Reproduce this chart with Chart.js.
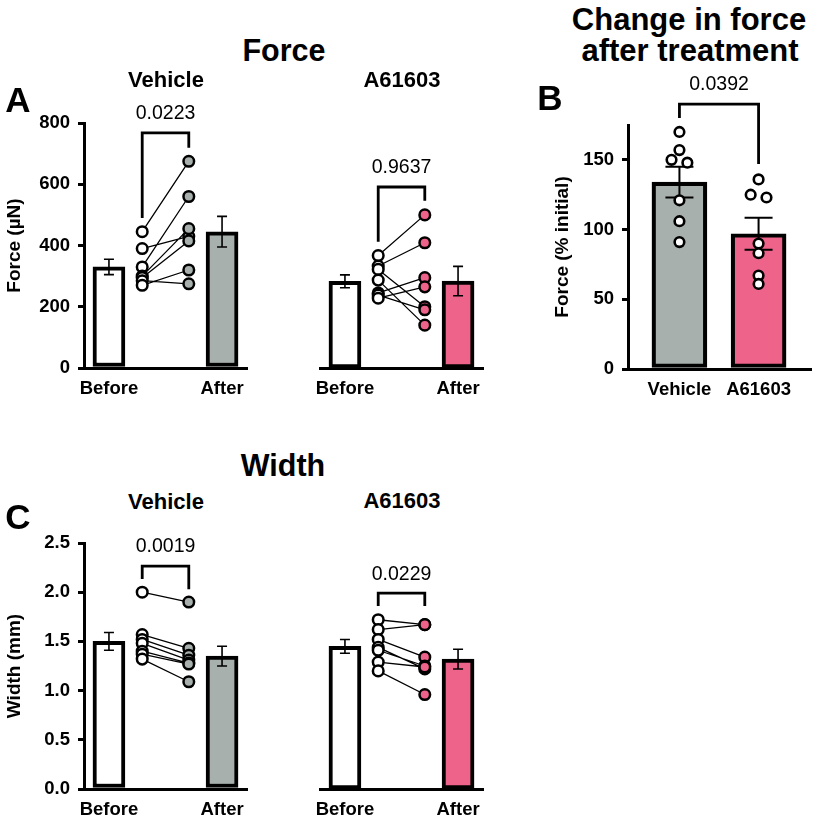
<!DOCTYPE html>
<html><head><meta charset="utf-8">
<script src="https://cdn.jsdelivr.net/npm/chart.js@4.4.1/dist/chart.umd.min.js"></script>
<style>
html,body{margin:0;padding:0;background:#fff;}
body{width:819px;height:823px;position:relative;overflow:hidden;font-family:"Liberation Sans",Arial,sans-serif;}
.t{position:absolute;font-weight:bold;color:#000;white-space:nowrap;transform:translate(-50%,-50%);line-height:1;}
canvas{position:absolute;}
</style></head><body>
<canvas id="aVeh"></canvas>
<canvas id="aA6"></canvas>
<canvas id="bChg"></canvas>
<canvas id="cVeh"></canvas>
<canvas id="cA6"></canvas>
<div class="t" style="left:284px;top:50px;font-size:30.5px">Force</div>
<div class="t" style="left:166px;top:80px;font-size:22px">Vehicle</div>
<div class="t" style="left:402px;top:80px;font-size:22px">A61603</div>
<div class="t" style="left:18px;top:99px;font-size:35px">A</div>
<div class="t" style="left:689px;top:19px;font-size:31px">Change in force</div>
<div class="t" style="left:690px;top:50px;font-size:31px">after treatment</div>
<div class="t" style="left:550px;top:97px;font-size:35px">B</div>
<div class="t" style="left:283px;top:465px;font-size:30.5px">Width</div>
<div class="t" style="left:166px;top:502px;font-size:22px">Vehicle</div>
<div class="t" style="left:402px;top:501px;font-size:22px">A61603</div>
<div class="t" style="left:18px;top:516px;font-size:35px">C</div>
<script>
// ---------- data ----------
const groups = ['Before', 'After'];
const treatments = ['Vehicle', 'A61603'];

// Force (µN), paired before / after
const forceVehBefore = [445, 390, 330, 300, 295, 285, 270];
const forceVehAfter  = [675, 430, 560, 455, 415, 275, 320];
const forceVehMean   = [330, 445];
const forceVehSem    = [25, 50];
const forceA6Before  = [367, 333, 322, 287, 245, 238, 228];
const forceA6After   = [500, 409, 200, 140, 295, 190, 265];
const forceA6Mean    = [283, 284];
const forceA6Sem     = [21, 48];
const forceTicks     = [0, 200, 400, 600, 800];

// Change in force after treatment (% initial)
const changeVeh  = [170, 157, 150, 148, 121, 106, 91];
const changeA6   = [136, 125, 123, 90, 83, 67, 61];
const changeMean = [134, 97];
const changeSem  = [11, 11.5];
const changeTicks = [0, 50, 100, 150];

// Width (mm), paired before / after
const widthVehBefore = [2.0, 1.57, 1.52, 1.48, 1.40, 1.37, 1.32];
const widthVehAfter  = [1.9, 1.43, 1.36, 1.31, 1.28, 1.27, 1.09];
const widthVehMean   = [1.50, 1.35];
const widthVehSem    = [0.09, 0.10];
const widthA6Before  = [1.72, 1.62, 1.52, 1.44, 1.41, 1.29, 1.20];
const widthA6After   = [1.67, 1.67, 1.34, 1.22, 1.25, 1.24, 0.96];
const widthA6Mean    = [1.45, 1.32];
const widthA6Sem     = [0.07, 0.10];
const widthTicks     = [0, 0.5, 1.0, 1.5, 2.0, 2.5];

const pValues = ['0.0223', '0.9637', '0.0392', '0.0019', '0.0229'];

// ---------- styling ----------
const FONT = '"Liberation Sans", Arial, sans-serif';
const GREY = '#a8b0ad';
const PINK = '#ee6389';
const TICK_FONT = {family: FONT, size: 18.5, weight: 'bold'};
Chart.defaults.font.family = FONT;
Chart.defaults.color = '#000';
Chart.defaults.animation = false;
Chart.defaults.plugins.legend.display = false;
Chart.defaults.plugins.tooltip.enabled = false;

// layout of paired panels (scale units)
const PX = {beforeBar: 0, beforePts: 1, afterPts: 2.4, afterBar: 3.4, min: -0.75, max: 4.15};

const annotPlugin = {
  id: 'annot',
  afterDatasetDraw(chart, args) {
    const ds = chart.data.datasets[args.index];
    if (!ds.sem) return;
    const ys = chart.scales.y, ctx = chart.ctx;
    const meta = chart.getDatasetMeta(args.index);
    ctx.save();
    ctx.strokeStyle = '#000';
    ctx.lineWidth = ds.errWidth;
    meta.data.forEach((el, i) => {
      const m = ds.data[i].y, s = ds.sem[i], c = ds.errCap;
      const x = el.x, y1 = ys.getPixelForValue(m + s), y2 = ys.getPixelForValue(m - s);
      ctx.beginPath();
      ctx.moveTo(x, y1); ctx.lineTo(x, y2);
      ctx.moveTo(x - c, y1); ctx.lineTo(x + c, y1);
      ctx.moveTo(x - c, y2); ctx.lineTo(x + c, y2);
      ctx.stroke();
    });
    ctx.restore();
  },
  afterDraw(chart, args, opts) {
    const b = opts.bracket;
    if (!b) return;
    const xs = chart.scales.x, ys = chart.scales.y, ctx = chart.ctx;
    const x1 = xs.getPixelForValue(b.x1), x2 = xs.getPixelForValue(b.x2);
    const yt = ys.getPixelForValue(b.top), yl = ys.getPixelForValue(b.left), yr = ys.getPixelForValue(b.right);
    ctx.save();
    ctx.strokeStyle = '#000';
    ctx.lineWidth = 2.8;
    ctx.lineJoin = 'miter';
    ctx.beginPath();
    ctx.moveTo(x1, yl); ctx.lineTo(x1, yt); ctx.lineTo(x2, yt); ctx.lineTo(x2, yr);
    ctx.stroke();
    ctx.fillStyle = '#000';
    ctx.font = '19.5px ' + FONT;
    ctx.textAlign = 'center';
    ctx.textBaseline = 'middle';
    ctx.fillText(b.text, (x1 + x2) / 2, yt - 19);
    ctx.restore();
  }
};

function place(id, left, top, w, h) {
  const c = document.getElementById(id);
  c.width = w; c.height = h;
  c.style.left = left + 'px'; c.style.top = top + 'px';
  c.style.width = w + 'px'; c.style.height = h + 'px';
  return c;
}

function yAxis(cfg) {
  return {
    type: 'linear', min: cfg.min, max: cfg.max, display: cfg.show,
    afterBuildTicks: s => { s.ticks = cfg.ticks.map(v => ({value: v})); },
    ticks: {font: TICK_FONT, padding: 8, callback: cfg.fmt},
    grid: {display: true, drawOnChartArea: false, drawTicks: true, tickLength: 6, color: '#000', lineWidth: 3},
    border: {display: true, color: '#000', width: 3},
    title: {display: !!cfg.title, text: cfg.title, font: {family: FONT, size: 19, weight: 'bold'}, padding: {top: 3, bottom: 0}},
    afterFit: s => { s.width = cfg.width; }
  };
}

function xAxis(min, max, tickVals, labels) {
  return {
    type: 'linear', min: min, max: max, offset: false,
    afterBuildTicks: s => { s.ticks = tickVals.map(v => ({value: v})); },
    ticks: {font: TICK_FONT, padding: 10, autoSkip: false, maxRotation: 0, callback: (v, i) => labels[i]},
    grid: {display: false, drawTicks: false},
    border: {display: true, color: '#000', width: 3},
    afterFit: s => { s.height = 40; }
  };
}

function pairedChart(id, pos, d) {
  const c = place(id, pos.left, pos.top, pos.w, pos.h);
  const lineData = [];
  d.before.forEach((b, i) => {
    lineData.push({x: PX.beforePts, y: b});
    lineData.push({x: PX.afterPts, y: d.after[i]});
    lineData.push({x: (PX.beforePts + PX.afterPts) / 2, y: null});
  });
  new Chart(c, {
    type: 'bar',
    data: {
      datasets: [
        {type: 'line', order: 0, data: d.before.map(v => ({x: PX.beforePts, y: v})), showLine: false,
         pointRadius: 5.3, pointBorderWidth: 2.5, pointBackgroundColor: '#fff', pointBorderColor: '#000'},
        {type: 'line', order: 1, data: d.after.map(v => ({x: PX.afterPts, y: v})), showLine: false,
         pointRadius: 5.3, pointBorderWidth: 2.5, pointBackgroundColor: d.color, pointBorderColor: '#000'},
        {type: 'line', order: 5, data: lineData, spanGaps: false, borderColor: '#000', borderWidth: 1.3, pointRadius: 0, fill: false},
        {type: 'bar', order: 10, data: [{x: PX.beforeBar, y: d.mean[0]}, {x: PX.afterBar, y: d.mean[1]}],
         backgroundColor: ['#fff', d.color], borderColor: '#000', borderWidth: 4, borderSkipped: false,
         barThickness: 32, sem: d.sem, errWidth: 1.6, errCap: 5}
      ]
    },
    options: {
      responsive: false, maintainAspectRatio: false, devicePixelRatio: 1,
      layout: {padding: pos.pad},
      scales: {
        x: xAxis(PX.min, PX.max, [PX.beforeBar, PX.afterBar], groups),
        y: yAxis(d.y)
      },
      plugins: {annot: {bracket: d.bracket}}
    },
    plugins: [annotPlugin]
  });
}

function spread(vals, center, thresh, step) {
  const idx = vals.map((v, i) => i).sort((a, b) => vals[b] - vals[a]);
  const out = new Array(vals.length);
  let group = [];
  const flush = () => {
    group.forEach((k, j) => { out[k] = {x: center + (j - (group.length - 1) / 2) * step, y: vals[k]}; });
    group = [];
  };
  idx.forEach(k => {
    if (group.length && Math.abs(vals[group[group.length - 1]] - vals[k]) >= thresh) flush();
    group.push(k);
  });
  flush();
  return out;
}

const forceY = {min: 0, max: 800, ticks: forceTicks, fmt: v => String(v)};
const widthY = {min: 0, max: 2.5, ticks: widthTicks, fmt: v => v.toFixed(1)};

pairedChart('aVeh', {left: 0, top: 90, w: 260, h: 318, pad: {top: 33, left: 0, right: 13, bottom: 0}}, {
  before: forceVehBefore, after: forceVehAfter, mean: forceVehMean, sem: forceVehSem, color: GREY,
  y: Object.assign({show: true, title: 'Force (\u00B5N)', width: 84}, forceY),
  bracket: {x1: PX.beforePts, x2: PX.afterPts, top: 768, left: 490, right: 719, text: pValues[0]}
});
pairedChart('aA6', {left: 300, top: 90, w: 196, h: 318, pad: {top: 33, left: 20, right: 13, bottom: 0}}, {
  before: forceA6Before, after: forceA6After, mean: forceA6Mean, sem: forceA6Sem, color: PINK,
  y: Object.assign({show: false, width: 0}, forceY),
  bracket: {x1: PX.beforePts, x2: PX.afterPts, top: 591, left: 412, right: 546, text: pValues[1]}
});
pairedChart('cVeh', {left: 0, top: 520, w: 260, h: 309, pad: {top: 23, left: 0, right: 13, bottom: 0}}, {
  before: widthVehBefore, after: widthVehAfter, mean: widthVehMean, sem: widthVehSem, color: GREY,
  y: Object.assign({show: true, title: 'Width (mm)', width: 84}, widthY),
  bracket: {x1: PX.beforePts, x2: PX.afterPts, top: 2.266, left: 2.134, right: 2.03, text: pValues[3]}
});
pairedChart('cA6', {left: 300, top: 520, w: 196, h: 309, pad: {top: 23, left: 20, right: 13, bottom: 0}}, {
  before: widthA6Before, after: widthA6After, mean: widthA6Mean, sem: widthA6Sem, color: PINK,
  y: Object.assign({show: false, width: 0}, widthY),
  bracket: {x1: PX.beforePts, x2: PX.afterPts, top: 1.99, left: 1.86, right: 1.86, text: pValues[4]}
});

// Panel B
(function () {
  const c = place('bChg', 548, 70, 271, 339);
  new Chart(c, {
    type: 'bar',
    data: {
      datasets: [
        {type: 'line', order: 0, data: spread(changeVeh, 0, 4, 0.2), showLine: false,
         pointRadius: 4.8, pointBorderWidth: 2.6, pointBackgroundColor: '#fff', pointBorderColor: '#000'},
        {type: 'line', order: 1, data: spread(changeA6, 1, 4, 0.2), showLine: false,
         pointRadius: 4.8, pointBorderWidth: 2.6, pointBackgroundColor: '#fff', pointBorderColor: '#000'},
        {type: 'bar', order: 10, data: [{x: 0, y: changeMean[0]}, {x: 1, y: changeMean[1]}],
         backgroundColor: [GREY, PINK], borderColor: '#000', borderWidth: 4.2, borderSkipped: false,
         barThickness: 55, sem: changeSem, errWidth: 2, errCap: 14}
      ]
    },
    options: {
      responsive: false, maintainAspectRatio: false, devicePixelRatio: 1,
      layout: {padding: {top: 55, left: 0, right: 1, bottom: 0}},
      scales: {
        x: xAxis(-0.65, 1.67, [0, 1], treatments),
        y: yAxis({show: true, min: 0, max: 175, ticks: changeTicks, fmt: v => String(v), title: 'Force (% initial)', width: 80})
      },
      plugins: {annot: {bracket: {x1: 0, x2: 1, top: 190, left: 180, right: 147, text: pValues[2]}}}
    },
    plugins: [annotPlugin]
  });
})();
</script>
</body></html>
